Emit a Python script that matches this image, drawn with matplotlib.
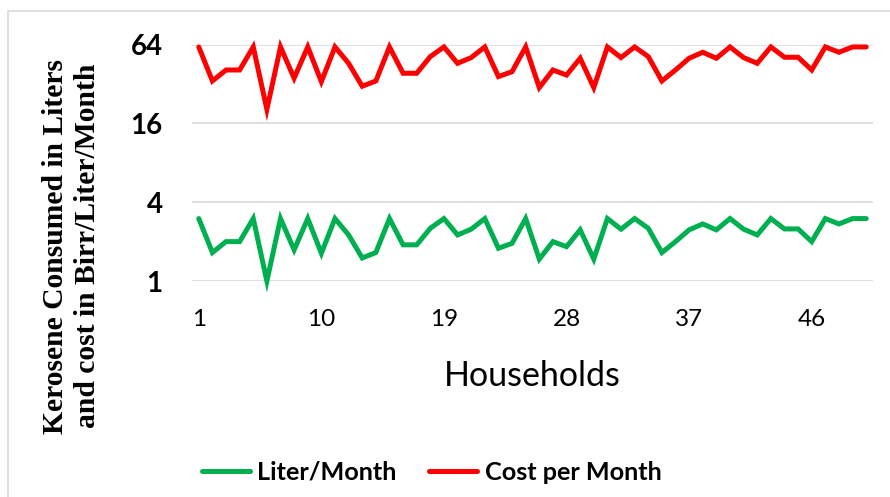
import matplotlib
matplotlib.use("Agg")
import matplotlib.pyplot as plt
from matplotlib.patches import Rectangle

# data
households = list(range(1, 51))
liters = [3, 1.65, 2, 2, 3, 1, 3, 1.73, 3, 1.63, 3, 2.25, 1.5, 1.65, 3, 1.89, 1.89, 2.53, 3, 2.25,
          2.49, 3, 1.78, 1.94, 3, 1.47, 2, 1.83, 2.46, 1.47, 3, 2.49, 3, 2.53, 1.65, 2, 2.46, 2.73, 2.46, 3,
          2.49, 2.25, 3, 2.5, 2.5, 2, 3, 2.73, 3, 3]
cost = [61.5, 33.8, 41, 41, 61.5, 20.5, 61.5, 35.5, 61.5, 33.4, 61.5, 46.1, 30.8, 33.8, 61.5, 38.7, 38.7, 51.9, 61.5, 46.1,
        51.0, 61.5, 36.5, 39.8, 61.5, 30.1, 41, 37.5, 50.4, 30.1, 61.5, 51.0, 61.5, 51.9, 33.8, 41, 50.4, 56.0, 50.4, 61.5,
        51.0, 46.1, 61.5, 51.3, 51.3, 41, 61.5, 56.0, 61.5, 61.5]
yticks = [1, 4, 16, 64]
xticks = [1, 10, 19, 28, 37, 46]

sans = ['Lato', 'DejaVu Sans']
serif = ['Liberation Serif', 'DejaVu Serif']

fig = plt.figure(figsize=(8.9, 4.97), dpi=100)
ax = fig.add_axes([0.2157, 0.4346, 0.7652, 0.4755])

ax.plot(households, liters, color='#00B050', lw=3.6, solid_capstyle='round', solid_joinstyle='miter',
        clip_on=False, label='Liter/Month', zorder=3)
ax.plot(households, cost, color='#FF0000', lw=3.6, solid_capstyle='round', solid_joinstyle='miter',
        clip_on=False, label='Cost per Month', zorder=3)

ax.set_yscale('log', base=2)
ax.set_ylim(1, 64)
ax.set_yticks(yticks)
ax.set_yticklabels([str(v) for v in yticks], family=sans, fontweight='bold', fontsize=20)
ax.minorticks_off()
ax.set_xlim(0.5, 50.5)
ax.set_xticks(xticks)
ax.set_xticklabels([str(v) for v in xticks], family=sans, fontsize=17.5)
ax.tick_params(axis='both', length=0)
ax.tick_params(axis='y', pad=21)
ax.tick_params(axis='x', pad=20)

for s in ax.spines.values():
    s.set_visible(False)
ax.grid(axis='y', color='#D9D9D9', lw=1.2)
ax.set_axisbelow(True)

ax.set_xlabel('Households', family=sans, fontsize=24.5, labelpad=22)

fig.text(0.08, 0.505, 'Kerosene Consumed in Liters\nand cost in Birr/Liter/Month', rotation=90,
         ha='center', va='center', multialignment='center', family=serif, fontweight='bold',
         fontsize=21.3, linespacing=1.25)

fig.legend(loc='center', bbox_to_anchor=(0.485, 0.05), ncol=2, frameon=False,
           prop={'family': sans, 'weight': 'bold', 'size': 18.2}, handlelength=1.9,
           handletextpad=0.3, columnspacing=1.3)

fig.patches.append(Rectangle((8 / 890, -0.1), 1.2, 0.978 + 0.1, transform=fig.transFigure,
                             fill=False, edgecolor='#D9D9D9', lw=1.2))

fig.savefig('out.png', dpi=100)
